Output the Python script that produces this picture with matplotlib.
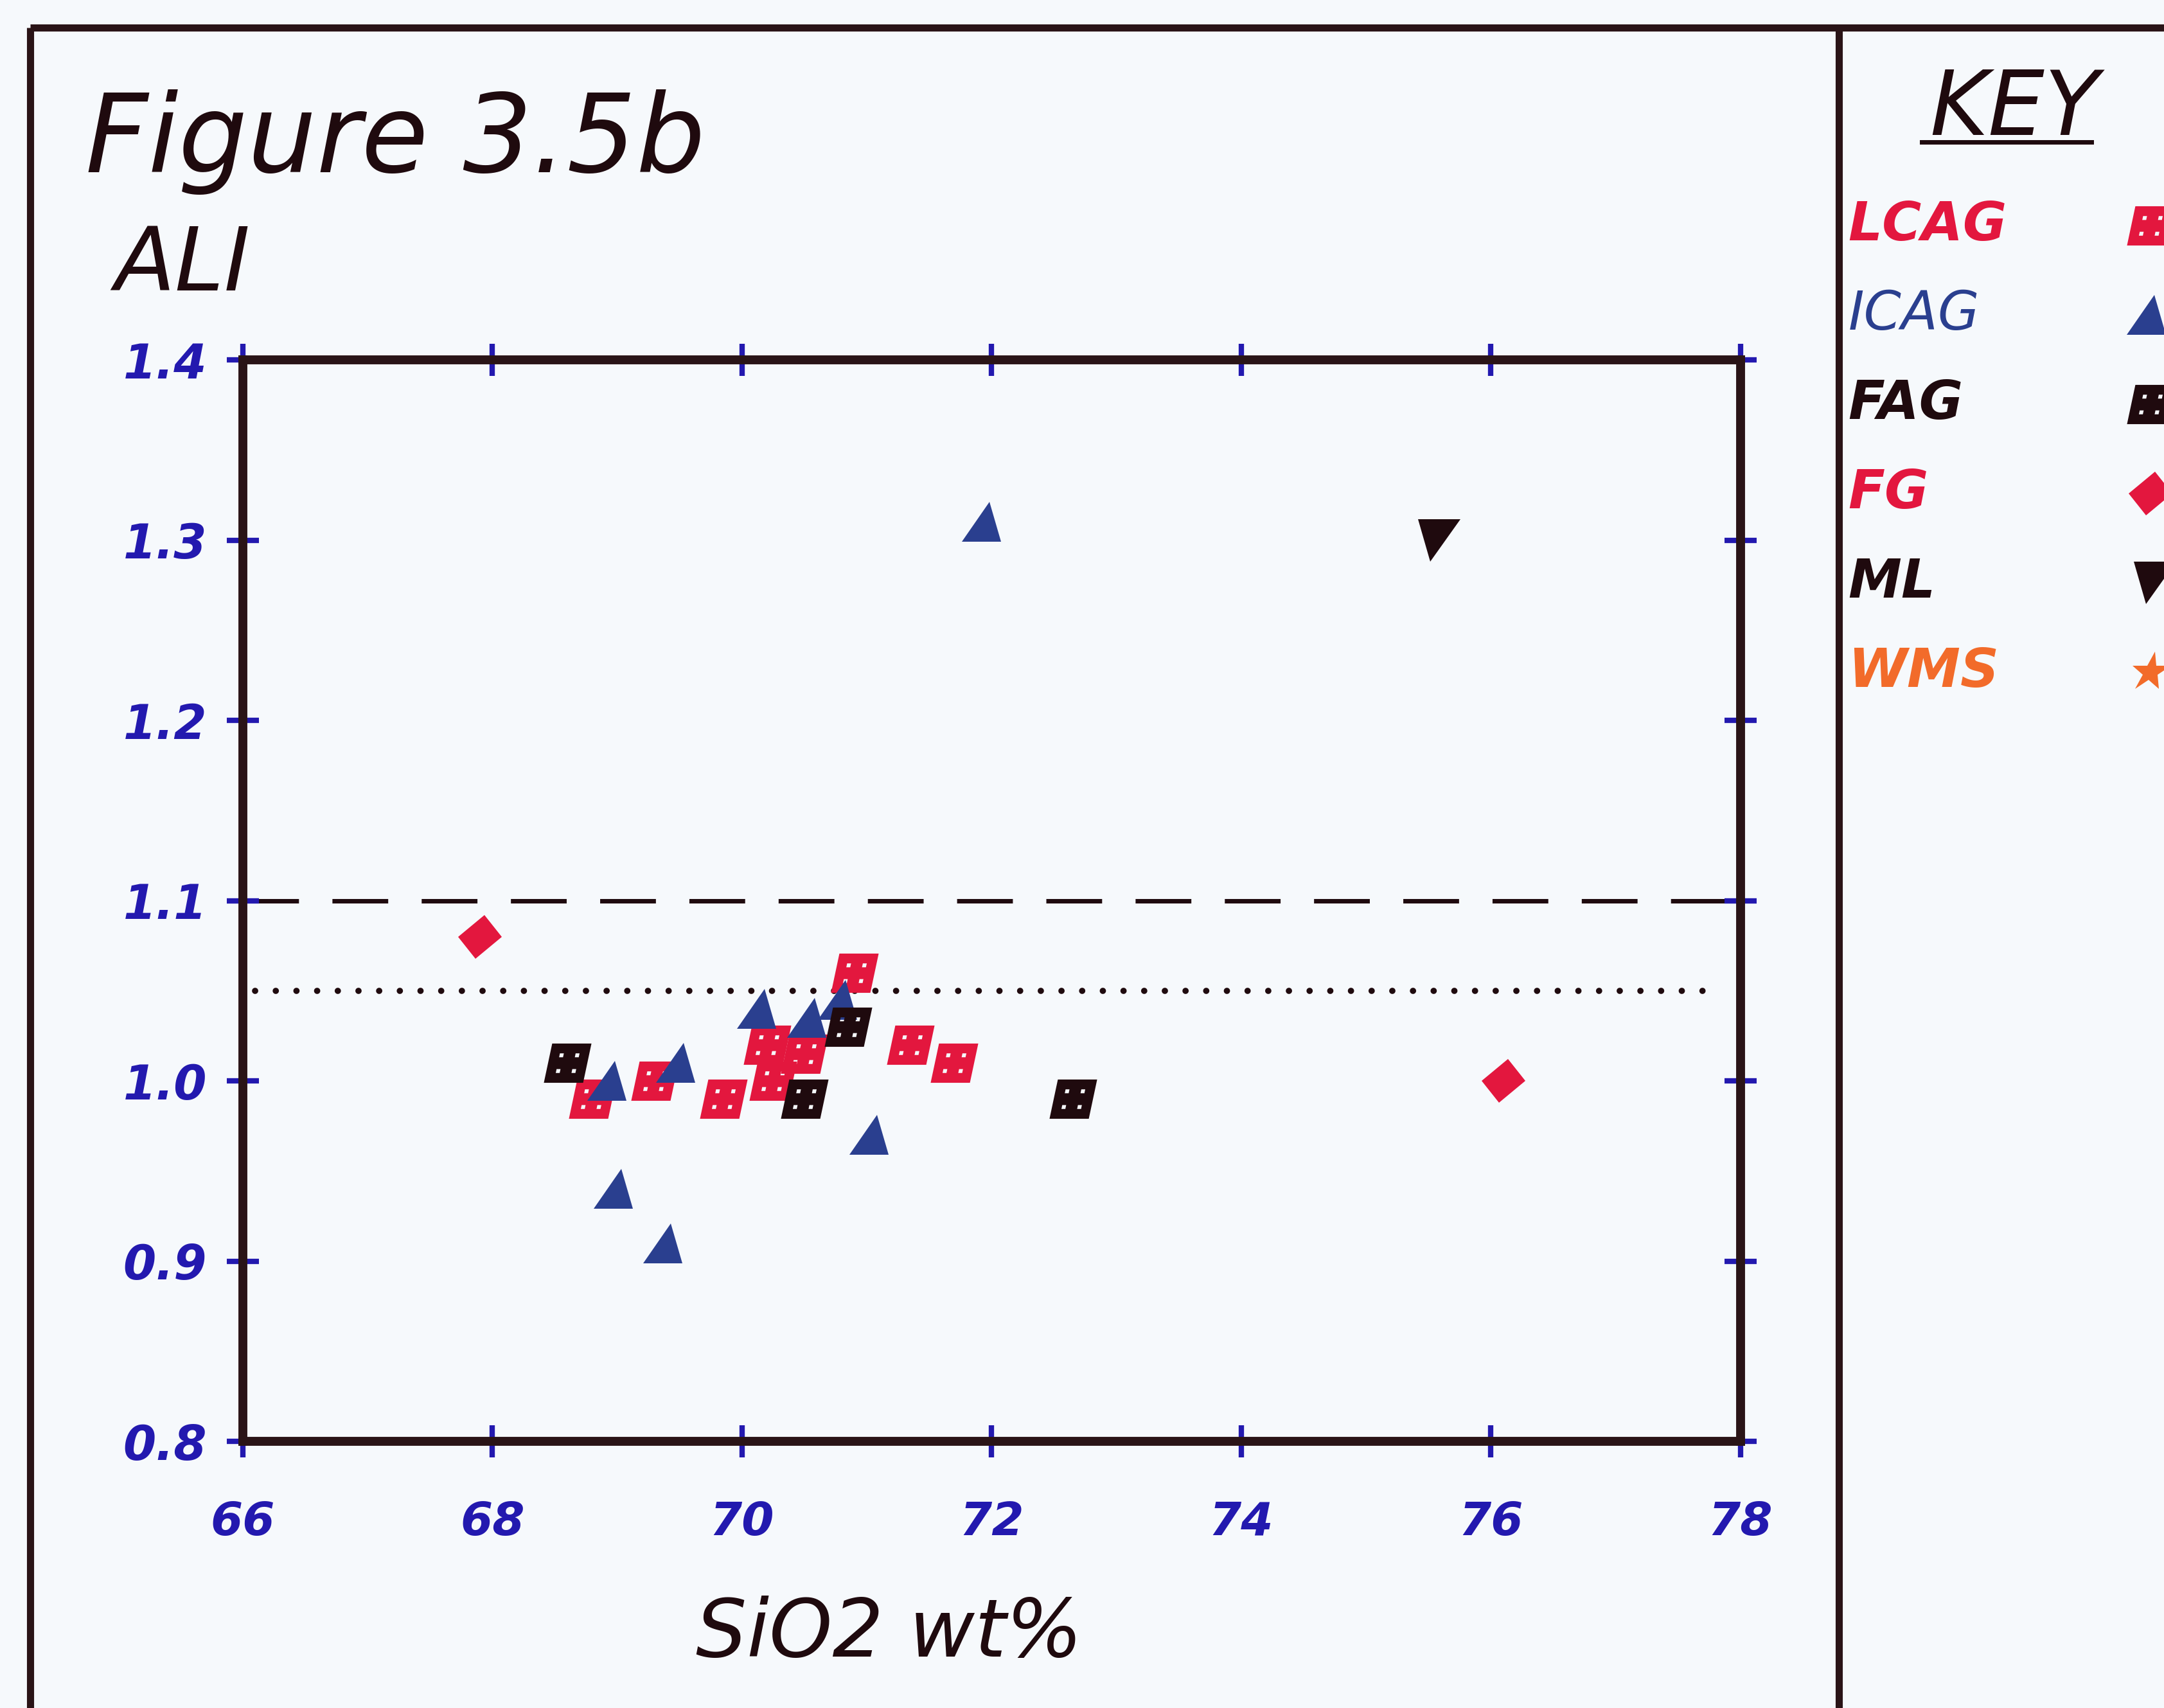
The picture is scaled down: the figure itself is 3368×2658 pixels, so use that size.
import matplotlib
matplotlib.use("Agg")
import matplotlib.pyplot as plt
from matplotlib.lines import Line2D
from matplotlib.markers import MarkerStyle
from matplotlib.path import Path
from matplotlib.transforms import Affine2D


# Data (SiO2 wt% against ALI)

lcag_sio2 = [68.8, 69.3, 69.85, 70.2, 70.25, 70.5, 70.9, 71.35, 71.7]
lcag_ali = [0.99, 1.00, 0.99, 1.02, 1.00, 1.015, 1.06, 1.02, 1.01]

icag_sio2 = [68.95, 69.0, 69.4, 69.5, 70.15, 70.55, 70.8, 71.05, 71.95]
icag_ali = [1.00, 0.94, 0.91, 1.01, 1.04, 1.035, 1.045, 0.97, 1.31]

fag_sio2 = [68.6, 70.5, 70.85, 72.65]
fag_ali = [1.01, 0.99, 1.03, 0.99]

fg_sio2 = [67.9, 76.1]
fg_ali = [1.08, 1.00]

ml_sio2 = [75.55]
ml_ali = [1.30]

wms_sio2 = []
wms_ali = []

x_ticks = [66, 68, 70, 72, 74, 76, 78]
y_ticks = [0.8, 0.9, 1.0, 1.1, 1.2, 1.3, 1.4]

ali_dashed = 1.10
ali_dotted = 1.05
dotted_from, dotted_to = 66.1, 77.85

key_names = ["LCAG", "ICAG", "FAG", "FG", "ML", "WMS"]


# Colours

red = "#e3173e"
blue = "#2a3f8f"
tick_blue = "#2319af"
ink = "#1f0a0e"
frame = "#2a1417"
orange = "#f26b2a"
paper = "#f6f9fc"


# Slanted plotter-style markers

slant = Affine2D().skew_deg(12, 0)


def dotted_square(h=0.05, o=0.2):
    verts = [(-0.5, -0.5), (0.5, -0.5), (0.5, 0.5), (-0.5, 0.5), (-0.5, -0.5)]
    codes = [Path.MOVETO] + [Path.LINETO] * 3 + [Path.CLOSEPOLY]
    for cx, cy in [(-o, -o), (o, -o), (o, o), (-o, o)]:
        verts += [(cx - h, cy - h), (cx - h, cy + h), (cx + h, cy + h),
                  (cx + h, cy - h), (cx - h, cy - h)]
        codes += [Path.MOVETO] + [Path.LINETO] * 3 + [Path.CLOSEPOLY]
    return Path(verts, codes)


square_m = MarkerStyle(dotted_square(), transform=slant)
up_m = MarkerStyle("^", transform=slant)
diamond_m = MarkerStyle("D", transform=slant)
down_m = MarkerStyle("v", transform=slant)
star_m = MarkerStyle("*", transform=slant)

series = [
    (lcag_sio2, lcag_ali, square_m, red, 44),
    (icag_sio2, icag_ali, up_m, blue, 44),
    (fag_sio2, fag_ali, square_m, ink, 44),
    (fg_sio2, fg_ali, diamond_m, red, 35),
    (ml_sio2, ml_ali, down_m, ink, 47),
    (wms_sio2, wms_ali, star_m, orange, 46),
]
key_colors = [red, blue, ink, red, ink, orange]
key_weights = ["bold", "normal", "bold", "bold", "bold", "bold"]


# Figure and outer frame

fig = plt.figure(figsize=(33.68, 26.58), dpi=100)
fig.patch.set_facecolor(paper)

border_x, border_top, divider_x = 0.014, 0.984, 0.8498
for xs, ys in [([border_x, border_x], [0, border_top]),
               ([border_x, 1.0], [border_top, border_top]),
               ([divider_x, divider_x], [0, border_top])]:
    fig.add_artist(Line2D(xs, ys, transform=fig.transFigure,
                          color=frame, lw=8, solid_capstyle="butt"))

ax = fig.add_axes([0.1122, 0.1561, 0.6921, 0.6332])
ax.set_facecolor("none")


# Reference lines and points

ax.axhline(ali_dashed, color=ink, lw=5, dashes=(12.5, 7.5), zorder=1)
ax.plot([dotted_from, dotted_to], [ali_dotted, ali_dotted], color=ink,
        lw=7, linestyle=(0, (0.01, 3.3)), dash_capstyle="round", zorder=1)

for xs, ys, marker, color, size in series:
    ax.plot(xs, ys, linestyle="none", marker=marker, markersize=size,
            color=color, markeredgewidth=0, zorder=3)


# Axes peripherals

ax.set_xlim(66, 78)
ax.set_ylim(0.8, 1.4)
ax.set_xticks(x_ticks, labels=[str(v) for v in x_ticks], fontsize=52,
              fontweight="bold", fontstyle="italic", color=tick_blue)
ax.set_yticks(y_ticks, labels=[f"{v:.1f}" for v in y_ticks], fontsize=53,
              fontweight="bold", fontstyle="italic", color=tick_blue)
ax.tick_params(axis="both", direction="inout", length=36, width=6,
               color=tick_blue, top=True, right=True)
ax.tick_params(axis="x", pad=48)
ax.tick_params(axis="y", pad=22)
for spine in ax.spines.values():
    spine.set_linewidth(10)
    spine.set_color(frame)

fig.text(0.0395, 0.899, "Figure 3.5b", fontsize=122, fontstyle="italic",
         color=ink, ha="left", va="baseline")
fig.text(0.053, 0.830, "ALI", fontsize=99, fontstyle="italic",
         color=ink, ha="left", va="baseline")
fig.text(0.411, 0.030, "SiO2 wt%", fontsize=90, fontstyle="italic",
         color=ink, ha="center", va="baseline")


# Key panel

fig.text(0.931, 0.921, "KEY", fontsize=100, fontstyle="italic",
         color=ink, ha="center", va="baseline")
fig.add_artist(Line2D([0.888, 0.9665], [0.9168, 0.9168],
                      transform=fig.transFigure, color=ink, lw=5))

key_top, key_step = 0.868, 0.0523
for i, name in enumerate(key_names):
    y = key_top - i * key_step
    fig.text(0.854, y, name, fontsize=60, fontstyle="italic",
             fontweight=key_weights[i], color=key_colors[i],
             ha="left", va="center")
    marker, color, size = series[i][2], series[i][3], series[i][4]
    fig.add_artist(Line2D([0.9938], [y], transform=fig.transFigure,
                          linestyle="none", marker=marker, markersize=size,
                          color=color, markeredgewidth=0))

fig.savefig("out.png", dpi=100, facecolor=fig.get_facecolor())
